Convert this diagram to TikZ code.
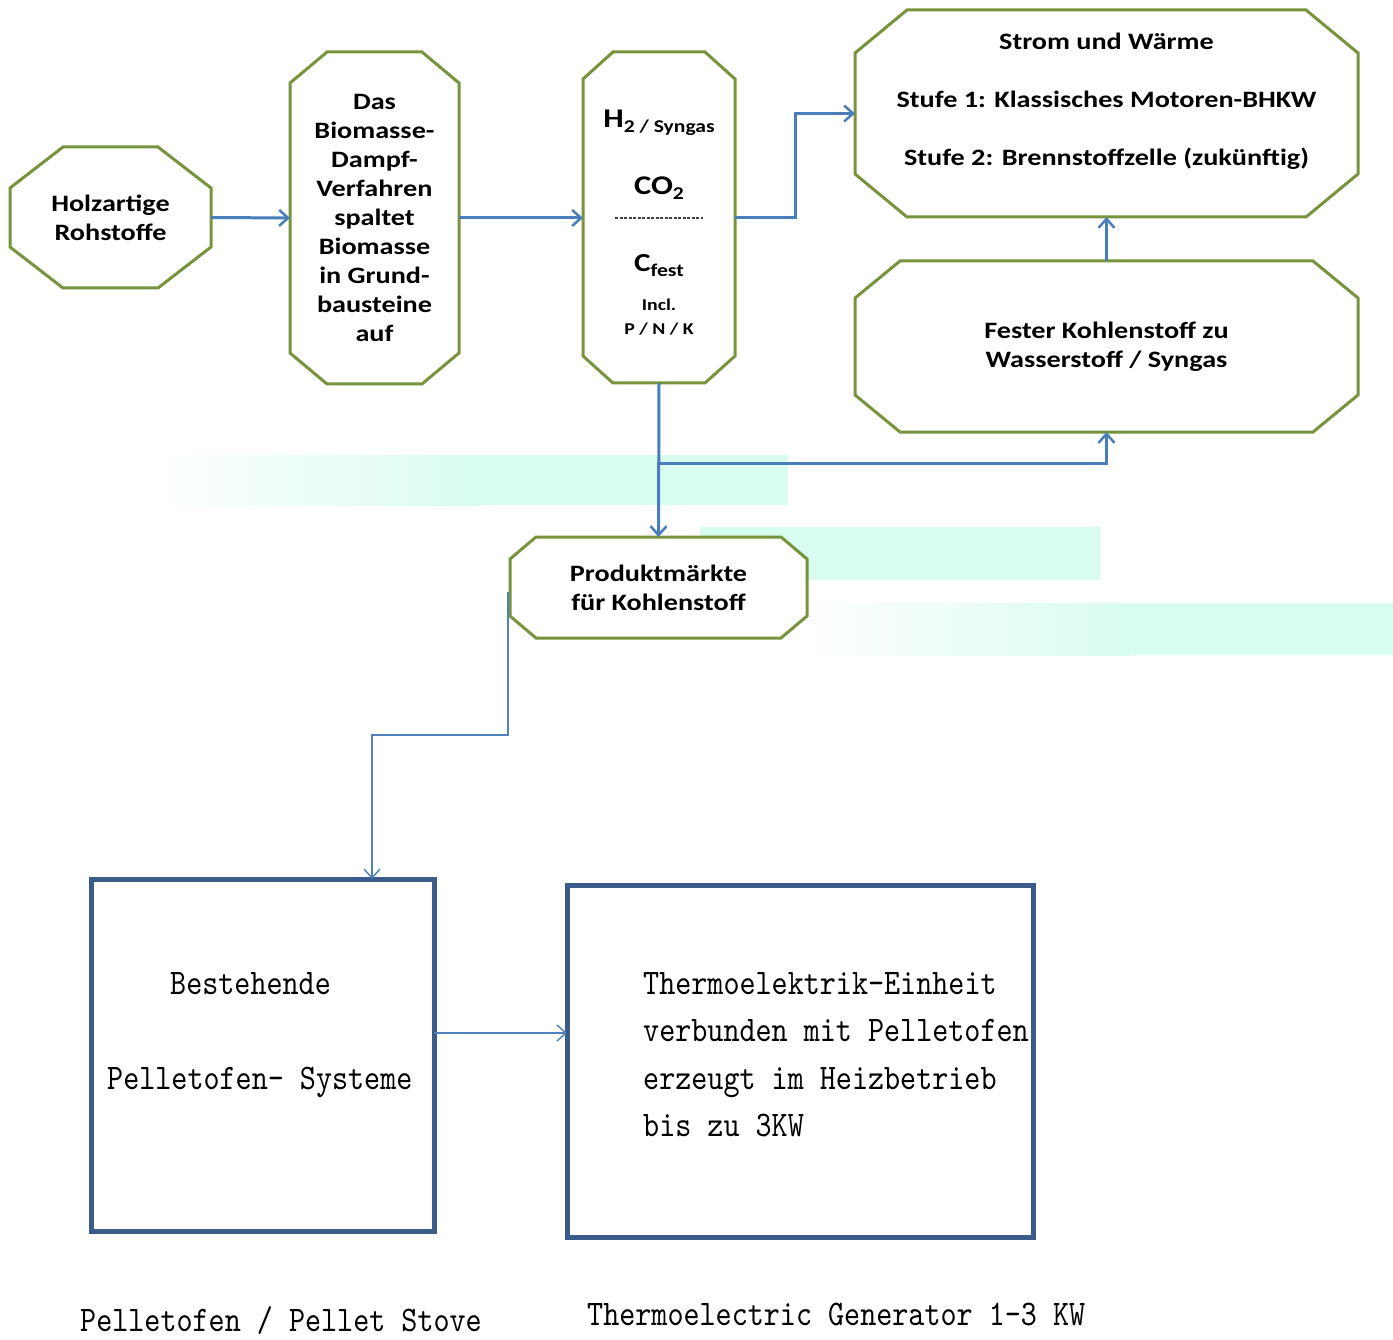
\documentclass[tikz,border=0pt]{standalone}
\usepackage{fontspec}
\usetikzlibrary{arrows.meta,calc,backgrounds}
\newfontfamily\calf[FakeStretch=1.2]{Carlito}
\newfontfamily\simf[FakeStretch=0.85]{lmmono10-regular.otf}
\definecolor{ogreen}{HTML}{77933C}
\definecolor{ablue}{HTML}{4A7EBB}
\definecolor{tblue}{HTML}{4F81BD}
\definecolor{dblue}{HTML}{3B5B8A}
\definecolor{band}{HTML}{D8FCF0}
\newcommand\octo[3]{\draw[oct] ($(#1.north west)+(#2,0)$) -- ($(#1.north east)+(-#2,0)$) -- ($(#1.north east)+(0,#3)$) -- ($(#1.south east)+(0,-#3)$) -- ($(#1.south east)+(-#2,0)$) -- ($(#1.south west)+(#2,0)$) -- ($(#1.south west)+(0,-#3)$) -- ($(#1.north west)+(0,#3)$) -- cycle;}
\begin{document}
\begin{tikzpicture}[x=1pt,y=-1pt,
  octbox/.style={draw=none, inner sep=0pt, outer sep=0pt, align=center, font=\calf\bfseries\fontsize{23.5}{29}\selectfont},
  ctext/.style={inner sep=0pt, align=center, font=\calf\bfseries\fontsize{23.5}{29}\selectfont},
  oct/.style={draw=ogreen, line width=3pt, fill=white, line join=miter},
  arr/.style={draw=ablue, line width=3pt, -{Straight Barb[length=9pt,width=16pt,line width=2.5pt]}},
  tarr/.style={draw=tblue, line width=1.6pt, -{Straight Barb[length=9pt,width=16pt,line width=1.4pt]}},
  sbox/.style={draw=dblue, line width=5pt, inner sep=0pt, outer sep=0pt},
  stext/.style={font=\simf\fontsize{36}{36}\selectfont, anchor=base west, inner sep=0pt},
]
\useasboundingbox (0,0) rectangle (1393,1340);

% octagon frames (nodes carry size and text)
\node[octbox, minimum width=201, minimum height=141] (holz) at (110.5,217.5) {Holzartige\\Rohstoffe};
\node[octbox, minimum width=169, minimum height=332] (bio) at (374.5,218) {Das\\Biomasse-\\Dampf-\\Verfahren\\spaltet\\Biomasse\\in Grund-\\bausteine\\auf};
\node[octbox, minimum width=152, minimum height=331] (h2) at (659,217.5) {};
\node[octbox, minimum width=503, minimum height=207] (strom) at (1106.5,113.5) {};
\node[octbox, minimum width=503, minimum height=171] (fester) at (1106.5,346.5) {Fester Kohlenstoff zu\\Wasserstoff / Syngas};
\node[octbox, minimum width=297, minimum height=101] (produkt) at (658.5,587.5) {Produktm\"arkte\\f\"ur Kohlenstoff};

\node[ctext] (stromtxt) at (1106.5,101) {Strom und W\"arme\\[29pt]Stufe 1: Klassisches Motoren-BHKW\\[29pt]Stufe 2: Brennstoffzelle (zuk\"unftig)};

% H2 box contents
\node[ctext, anchor=base] (h2a) at (659,128) {\fontsize{27}{27}\selectfont H\raisebox{-5pt}{\fontsize{18}{18}\selectfont 2 / Syngas}};
\node[ctext, anchor=base] (co2) at (659,195) {\fontsize{27}{27}\selectfont CO\raisebox{-5pt}{\fontsize{18}{18}\selectfont 2}};
\node[ctext, anchor=base] (cfest) at (659,272) {\fontsize{26}{26}\selectfont C\raisebox{-5pt}{\fontsize{18}{18}\selectfont fest}};
\node[ctext, anchor=base, font=\calf\bfseries\fontsize{16.5}{24}\selectfont] (incl) at (659,311) {Incl.};
\node[ctext, anchor=base, font=\calf\bfseries\fontsize{16.5}{24}\selectfont] (pnk) at (659,335) {P / N / K};
\coordinate (dl) at (615,218);
\coordinate (dr) at (703,218);
\draw[black!75, line width=1.1pt, dash pattern=on 3pt off 1.5pt] (dl) -- (dr);

\begin{scope}[on background layer]
  % pale bands
  \shade[left color=white, right color=band] (150,455) rectangle (480,505);
  \fill[band] (479,455) rectangle (788,505);
  \fill[band] (700,527) rectangle (1100,580);
  \shade[left color=white, right color=band] (800,603) rectangle (1130,655);
  \fill[band] (1129,603) rectangle (1393,655);
  \octo{holz}{53}{41}
  \octo{bio}{37}{31}
  \octo{h2}{30}{27}
  \octo{strom}{52}{43}
  \octo{fester}{45}{37}
  \octo{produkt}{26}{22}
\end{scope}

% connectors
\draw[arr] (holz.east) -- (bio.west);
\draw[arr] (bio.east) -- (bio.east -| h2.west);
\draw[arr] (h2.east) -- ++(60,0) |- (strom.west);
\draw[arr] (fester.north) -- (strom.south);
\draw[arr] (h2.south) -- (produkt.north);
\coordinate (br) at (h2.south |- 0,463);
\draw[arr] (br) -| (fester.south);

% lower boxes
\node[sbox, minimum width=343, minimum height=352, anchor=north west] (best) at (91,879) {};
\node[sbox, minimum width=466, minimum height=352, anchor=north west] (thermo) at (567,885) {};

\coordinate (pst) at ($(produkt.west)+(-2,4)$);
\draw[tarr] (pst) -- (pst |- 0,735) -| ($(best.north west)+(281,0)$);
\draw[tarr] (best.east |- 0,1033) -- (thermo.west |- 0,1033);

\node[stext] (b1) at (170,994) {Bestehende};
\node[stext] (b2) at (107,1089) {Pelletofen- Systeme};
\node[stext] (c1) at (643,994) {Thermoelektrik-Einheit};
\node[stext] (c2) at (643,1041) {verbunden mit Pelletofen};
\node[stext] (c3) at (643,1089) {erzeugt im Heizbetrieb};
\node[stext] (c4) at (643,1136) {bis zu 3KW};
\node[stext] (cap1) at (80,1331) {Pelletofen / Pellet Stove};
\node[stext] (cap2) at (587,1325) {Thermoelectric Generator 1-3 KW};
\end{tikzpicture}
\end{document}
